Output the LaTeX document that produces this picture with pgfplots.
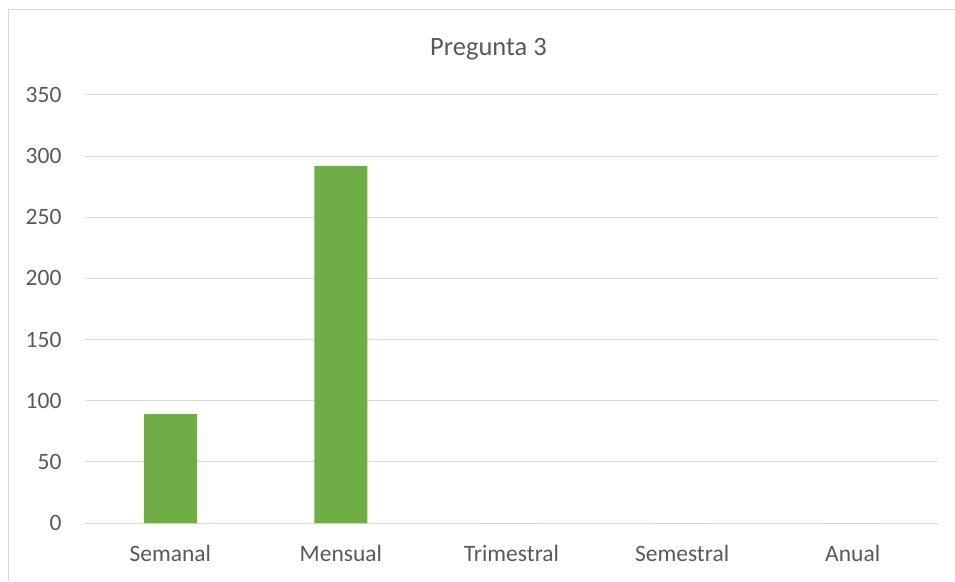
\documentclass[border=0pt]{standalone}
\usepackage{pgfplots}
\pgfplotsset{compat=1.18}
\usepackage{fontspec}
\setmainfont{Carlito}
\definecolor{barGreen}{HTML}{70AD47}
\definecolor{gridGray}{HTML}{D9D9D9}
\definecolor{textGray}{HTML}{595959}
\definecolor{frameGray}{HTML}{D9D9D9}
\begin{document}
\begin{tikzpicture}[x=1pt,y=1pt]
% chart frame
\draw[frameGray, line width=1pt] (8,0) -- (8,571) -- (955,571);
\begin{axis}[
  at={(85pt,58pt)}, anchor=south west,
  scale only axis, width=853pt, height=428pt,
  ybar, bar width=53pt,
  xmin=-0.5, xmax=4.5, ymin=0, ymax=350,
  xtick=data,
  xticklabels={Semanal,Mensual,Trimestral,Semestral,Anual},
  ytick={0,50,...,350},
  ymajorgrids, grid style={gridGray, line width=1pt},
  axis x line*=bottom, axis y line*=left,
  x axis line style={gridGray, line width=1pt, -},
  y axis line style={draw=none},
  major tick length=0pt,
  tick label style={font=\fontsize{23.5}{28}\selectfont, text=textGray},
  /pgf/number format/assume math mode=true,
  yticklabel style={xshift=-20pt},
  xticklabel style={yshift=-19pt},
  title={Pregunta 3},
  title style={font=\fontsize{26.5}{31}\selectfont, text=textGray, at={(0.473,1)}, yshift=25pt},
  clip=false,
]
\addplot[fill=barGreen, draw=none] coordinates {(0,89) (1,292) (2,0) (3,0) (4,0)};
\end{axis}
\pgfresetboundingbox
\path[use as bounding box] (0,0) rectangle (955,581);
\end{tikzpicture}
\end{document}
